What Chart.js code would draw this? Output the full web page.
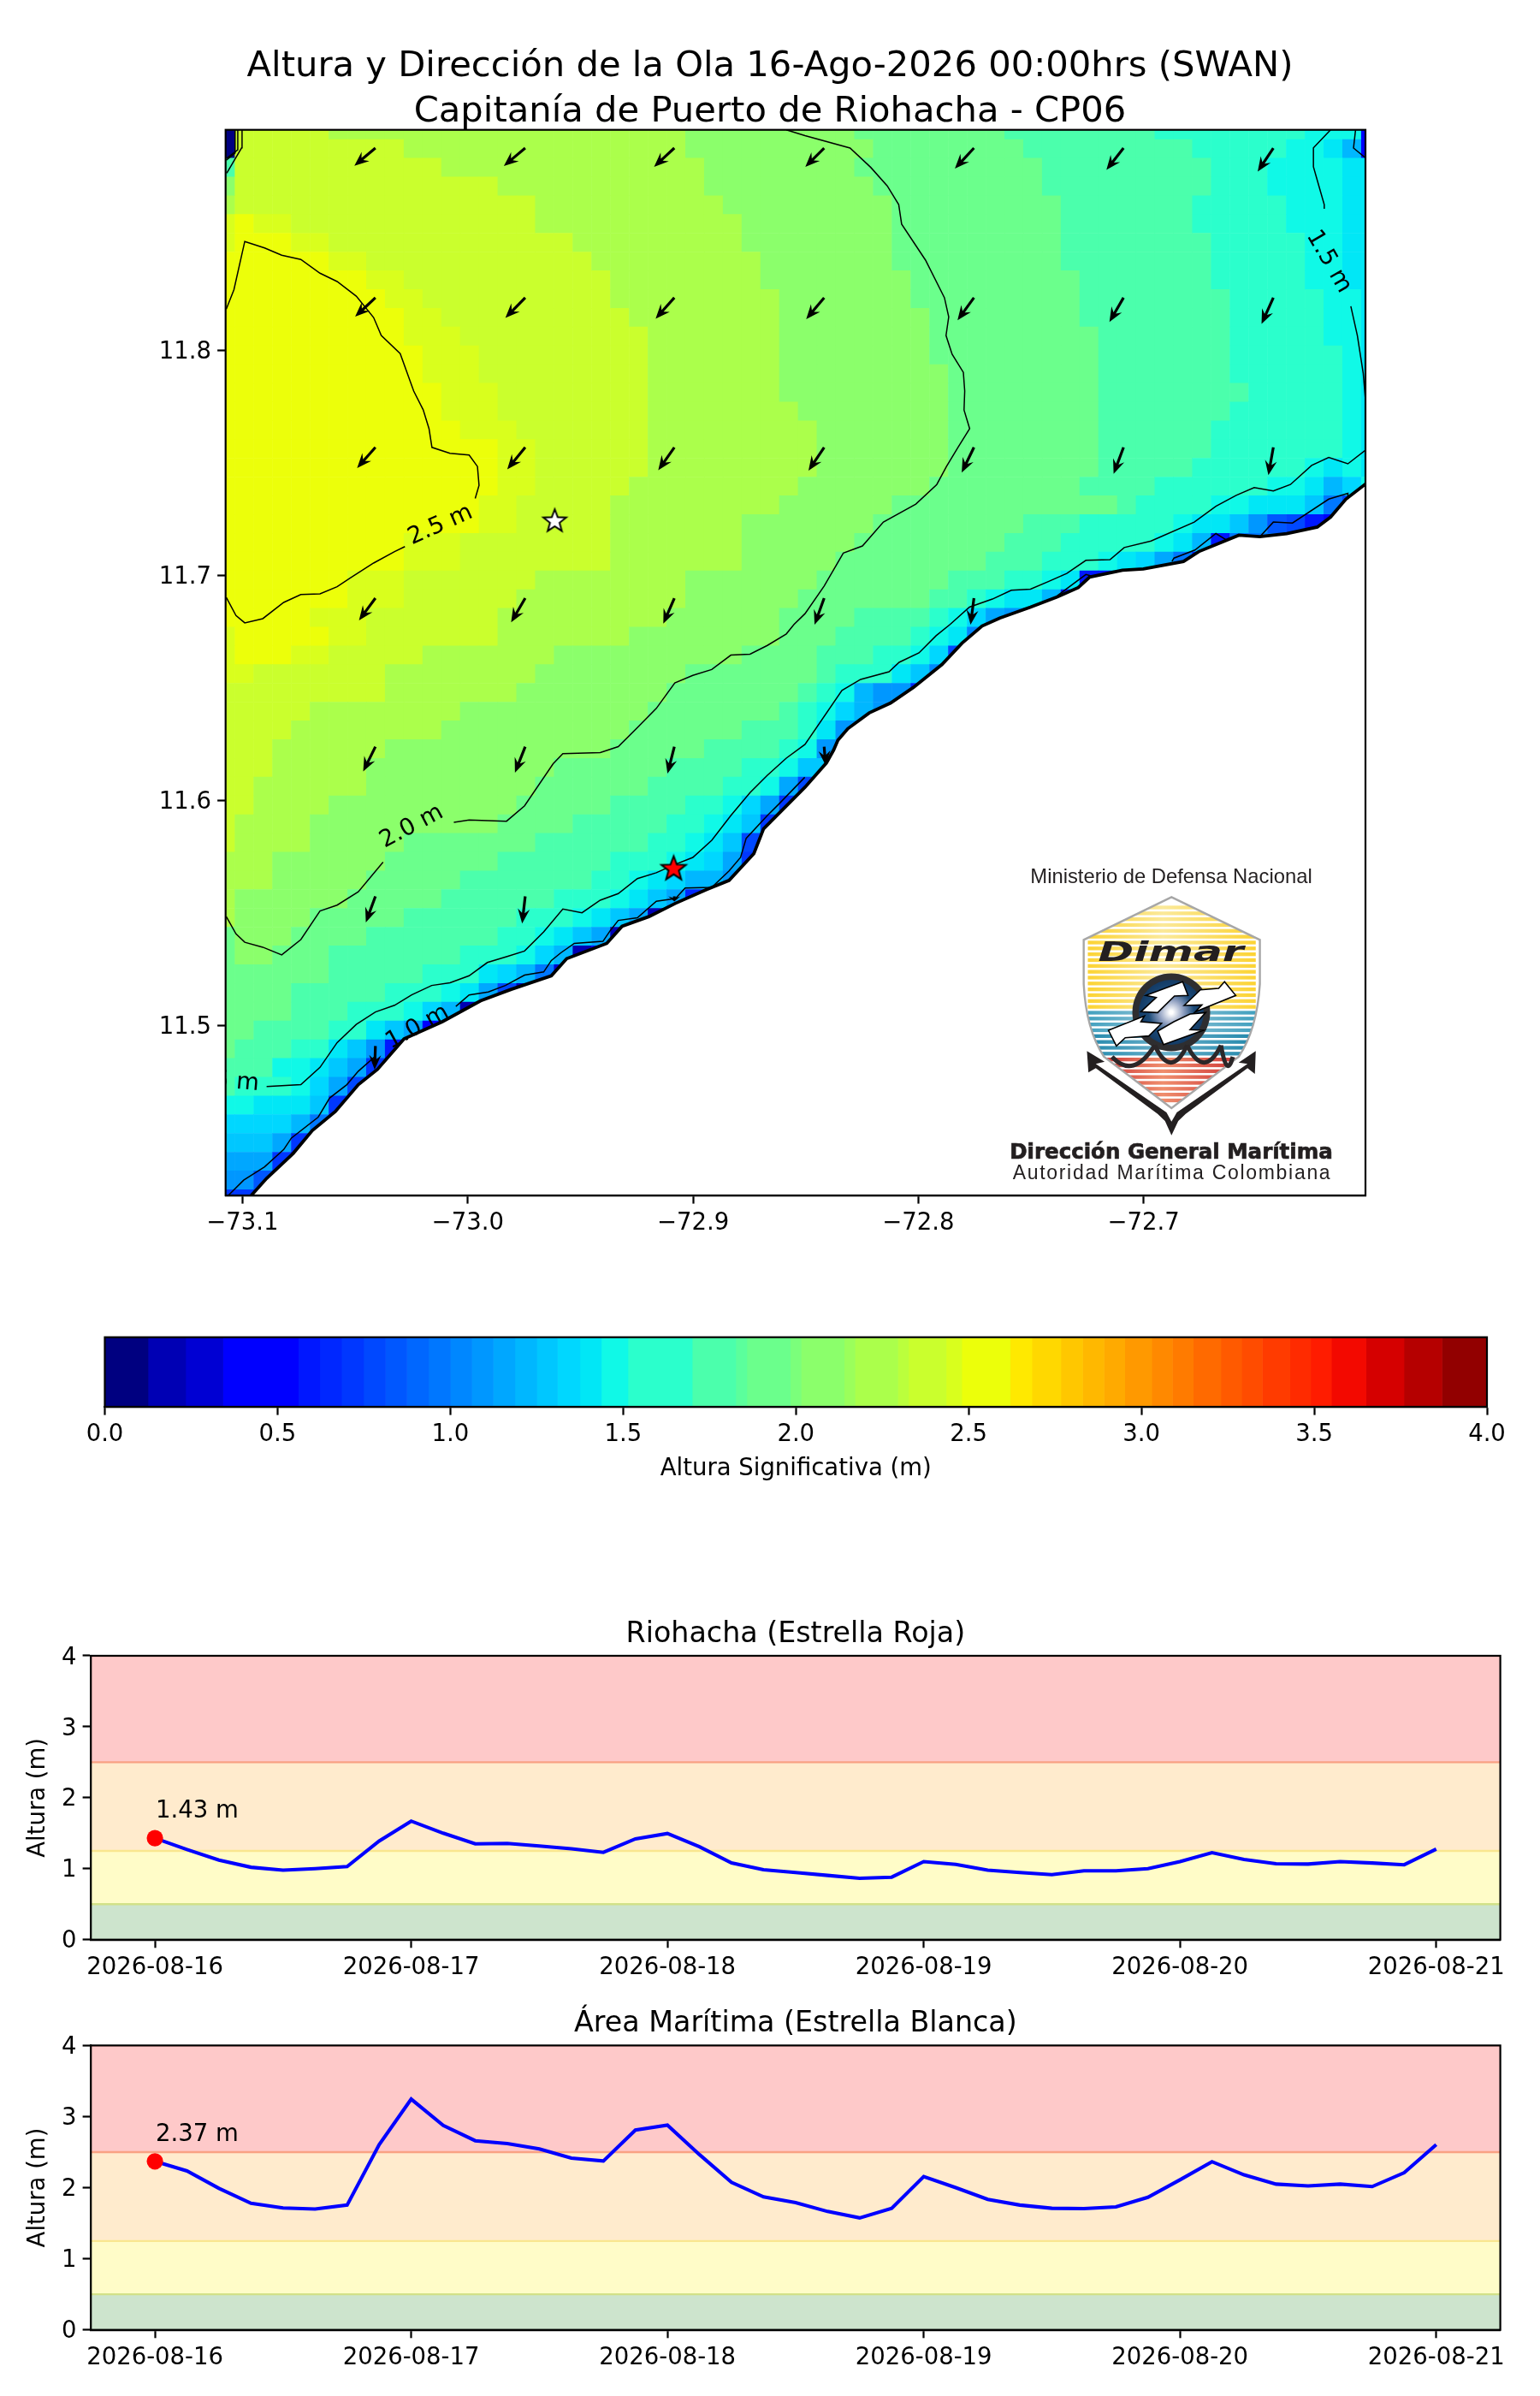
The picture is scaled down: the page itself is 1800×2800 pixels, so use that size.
<!DOCTYPE html>
<html>
<head>
<meta charset="utf-8">
<title>Altura y Dirección de la Ola</title>
<script src="https://cdn.jsdelivr.net/npm/chart.js@4"></script>
<style>
  html, body { margin: 0; padding: 0; background: #fff; }
  #page { position: relative; width: 1800px; height: 2800px; overflow: hidden; }
  canvas { position: absolute; left: 0; }
</style>
</head>
<body>
<div id="page">
  <canvas id="mapChart" width="1800" height="1500" style="top:0"></canvas>
  <canvas id="barChart" width="1800" height="220" style="top:1540px"></canvas>
  <canvas id="redChart" width="1800" height="460" style="top:1880px"></canvas>
  <canvas id="whiteChart" width="1800" height="460" style="top:2340px"></canvas>
</div>
<script>
const mainTitle = ['Altura y Dirección de la Ola 16-Ago-2026 00:00hrs (SWAN)', 'Capitanía de Puerto de Riohacha - CP06'];
const lonTicks = [-73.1, -73.0, -72.9, -72.8, -72.7];
const latTicks = [11.5, 11.6, 11.7, 11.8];

// colour band edges
const bandEdges = [0, .125, .234, .342, .56, .622, .685, .749, .812, .874, .937, 1, 1.062, 1.124, 1.187, 1.25, 1.31, 1.375, 1.437, 1.514, 1.7, 1.826, 1.858, 1.984, 2.015, 2.14, 2.171, 2.295, 2.326, 2.435, 2.48, 2.62, 2.683, 2.767, 2.83, 2.892, 2.952, 3.03, 3.09, 3.15, 3.23, 3.29, 3.35, 3.43, 3.49, 3.55, 3.65, 3.76, 3.87, 4];
const barTicks = [0, .5, 1, 1.5, 2, 2.5, 3, 3.5, 4];

// wave height per grid row, north to south: value, last column it holds for
const hsRows = [
  [.06,0,2.38,5,2.23,24,2.08,33,1.92,41,1.76,49,1.6,57,1.47,60,.45,61],
  [.06,0,2.38,9,2.23,24,2.08,34,1.92,42,1.76,51,1.6,56,1.47,58,1.4,59,1.2,60,.45,61],
  [1.76,0,2.38,11,2.23,25,2.08,33,1.92,43,1.76,52,1.6,55,1.47,59,1.4,61],
  [2.08,0,2.38,14,2.23,25,2.08,34,1.92,43,1.76,52,1.6,55,1.47,59,1.4,61],
  [2.23,0,2.38,16,2.23,26,2.08,35,1.92,44,1.76,51,1.6,56,1.47,59,1.4,61],
  [2.46,0,2.55,1,2.46,3,2.38,16,2.23,27,2.08,35,1.92,44,1.76,51,1.6,56,1.47,59,1.4,61],
  [2.46,0,2.55,3,2.46,5,2.38,18,2.23,27,2.08,35,1.92,44,1.76,52,1.6,57,1.47,59,1.4,61],
  [2.55,5,2.46,7,2.38,19,2.23,28,2.08,35,1.92,44,1.76,52,1.6,57,1.47,59,1.4,61],
  [2.55,7,2.46,9,2.38,20,2.23,28,2.08,36,1.92,45,1.76,52,1.6,57,1.47,59,1.4,61],
  [2.55,8,2.46,10,2.38,20,2.23,29,2.08,36,1.92,45,1.76,53,1.6,58,1.47,60,1.4,61],
  [2.55,9,2.46,11,2.38,21,2.23,29,2.08,37,1.92,45,1.76,53,1.6,58,1.47,60,1.4,61],
  [2.55,9,2.46,12,2.38,22,2.23,29,2.08,37,1.92,46,1.76,53,1.6,58,1.47,60,1.4,61],
  [2.55,10,2.46,13,2.38,22,2.23,29,2.08,37,1.92,46,1.76,53,1.6,59,1.47,60,1.4,61],
  [2.55,10,2.46,13,2.38,22,2.23,29,2.08,38,1.92,46,1.76,53,1.6,59,1.47,60,1.4,61],
  [2.55,11,2.46,14,2.38,22,2.23,29,2.08,38,1.92,46,1.76,54,1.6,59,1.47,60,1.4,61],
  [2.55,11,2.46,14,2.38,22,2.23,30,2.08,38,1.92,46,1.76,53,1.6,59,1.47,60,1.4,61],
  [2.55,12,2.46,15,2.38,22,2.23,31,2.08,38,1.92,46,1.76,52,1.6,59,1.47,60,1.4,61],
  [2.55,14,2.46,16,2.38,22,2.23,31,2.08,38,1.92,46,1.76,52,1.6,59,1.47,60,1.4,61],
  [2.55,14,2.46,16,2.38,22,2.23,31,2.08,38,1.92,46,1.76,51,1.6,57,1.47,58,1.4,59,1.47,60,1.4,61],
  [2.55,14,2.46,16,2.38,21,2.23,30,2.08,37,1.92,45,1.76,49,1.6,55,1.47,57,1.4,58,1.22,59,1.34,60,1.47,61],
  [2.55,13,2.46,15,2.38,20,2.23,29,2.08,35,1.92,47,1.76,48,1.6,52,1.47,54,1.4,57,1.28,58,1,59,.8,61],
  [2.55,13,2.46,15,2.38,20,2.23,27,2.08,34,1.92,42,1.76,45,1.6,50,1.47,51,1.4,53,1.28,54,1.07,55,.87,56,.8,57,.62,58,.45,60],
  [2.55,9,2.46,12,2.38,20,2.23,27,2.08,33,1.92,41,1.76,44,1.6,49,1.47,50,1.4,51,1.22,52,.62,53,1,56],
  [2.55,9,2.46,12,2.38,20,2.23,27,2.08,32,1.92,40,1.76,43,1.6,46,1.47,47,1.4,48,1.34,49,1.15,50,1,51,.62,53],
  [2.55,6,2.46,9,2.38,16,2.23,24,2.08,31,1.92,38,1.76,41,1.6,43,1.47,44,1.4,45,.62,47],
  [2.55,6,2.46,9,2.38,15,2.23,24,2.08,30,1.92,37,1.76,39,1.6,40,1.47,41,1.4,43,1.22,44,.62,46],
  [2.55,4,2.46,7,2.38,14,2.23,23,2.08,29,1.92,33,1.76,37,1.6,38,1.47,39,1.36,40,1.15,41,1.07,42,.62,44],
  [2.46,0,2.55,5,2.46,7,2.38,14,2.23,21,2.08,29,1.92,32,1.76,36,1.6,37,1.47,38,1.4,39,1.05,41],
  [2.46,0,2.55,3,2.46,5,2.38,10,2.23,17,2.08,27,1.92,31,1.76,34,1.6,36,1.47,37,1.34,38,.78,40],
  [2.46,1,2.38,8,2.23,16,2.08,24,1.92,31,1.76,32,1.6,35,1.4,36,1.28,37,1.05,39],
  [2.38,8,2.23,15,2.08,23,1.92,30,1.76,31,1.6,32,1.47,33,1.2,34,1.07,36,.68,38],
  [2.38,4,2.23,12,2.08,22,1.92,29,1.76,30,1.6,31,1.47,32,1.34,33,1.2,34,1.07,37],
  [2.38,3,2.23,11,2.08,21,1.92,27,1.76,30,1.6,31,1.4,32,1.07,35],
  [2.38,2,2.23,8,2.08,20,1.92,25,1.76,29,1.6,30,1.47,31,1.07,34],
  [2.38,2,2.23,7,2.08,17,1.92,23,1.76,27,1.6,29,1.47,30,1.28,33],
  [2.38,1,2.23,7,2.08,16,1.92,22,1.76,26,1.6,28,1.47,29,1.15,30,.8,33],
  [2.38,1,2.23,5,2.08,15,1.92,20,1.76,24,1.6,26,1.47,27,1.34,28,1.15,29,.72,32],
  [2.38,0,2.23,4,2.08,14,1.92,18,1.76,23,1.6,25,1.47,26,1.4,27,1.28,28,.72,31],
  [2.38,0,2.23,4,2.08,9,1.92,16,1.76,22,1.6,24,1.47,25,1.4,26,1.28,27,.8,30],
  [2.23,2,2.08,8,1.92,14,1.76,20,1.6,23,1.47,24,1.4,25,1.34,26,1.15,27,.72,30],
  [2.23,2,2.08,7,1.92,12,1.76,19,1.6,21,1.47,22,1.4,23,1.34,24,1.2,26,1.07,27,.72,29],
  [2.23,0,2.08,6,1.92,11,1.76,17,1.6,20,1.47,21,1.4,22,1.28,23,1.15,24,.68,27],
  [2.23,0,2.08,4,1.92,9,1.76,15,1.6,18,1.47,19,1.4,20,1.28,21,1.15,22,.15,25],
  [1.92,0,2.08,3,1.92,7,1.76,14,1.6,16,1.47,17,1.4,18,1.28,19,1.15,20,.15,21,.5,24],
  [1.92,0,2.08,2,1.92,5,1.76,12,1.6,15,1.47,16,1.34,17,1.2,18,.2,19,.5,22],
  [1.92,5,1.76,10,1.6,13,1.4,14,1.34,15,1.2,16,1,17,.3,20],
  [1.92,3,1.76,8,1.6,11,1.47,12,1.4,13,1.15,14,.8,15,.15,16,.5,19],
  [1.92,3,1.76,6,1.6,9,1.47,10,1.34,11,1.2,12,.15,13,.5,16],
  [1.92,1,1.76,5,1.6,7,1.4,8,1.28,9,1.15,10,.45,11,.6,14],
  [1.92,0,1.76,3,1.6,5,1.4,6,1.28,7,1.07,8,.62,9,.6,12],
  [1.76,2,1.47,4,1.4,5,1.28,6,1.15,7,.72,8,.6,11],
  [1.76,0,1.6,3,1.47,4,1.34,5,1.15,6,.8,7,.5,10],
  [1.47,1,1.4,4,1.28,5,.72,6,.5,9],
  [1.34,3,1.22,4,1,5,.72,8],
  [1.28,2,1.15,3,.72,4,.3,7],
  [1.15,2,.72,3,.3,6],
  [1.07,1,.87,2,.6,5],
  [.72,1,.6,4]
];
const gridLonStart = -73.1075, gridLatStart = 11.898, gridStep = 1 / 120;

// contour lines [lon, lat]
const contour25a = [[-73.1072,11.8184],[-73.1038,11.8271],[-73.099,11.8485],[-73.0902,11.8456],[-73.0826,11.8424],[-73.0741,11.8405],[-73.0656,11.8344],[-73.058,11.8307],[-73.0495,11.8242],[-73.0418,11.8147],[-73.0384,11.8067],[-73.03,11.7987],[-73.024,11.782],[-73.0198,11.7737],[-73.0172,11.7653],[-73.0159,11.757],[-73.0079,11.7544],[-72.9994,11.7536],[-72.9957,11.7485],[-72.995,11.7401],[-72.9967,11.7343]];
const contour25b = [[-73.0279,11.7129],[-73.0325,11.7107],[-73.0418,11.7056],[-73.052,11.6991],[-73.058,11.6951],[-73.0656,11.6919],[-73.0741,11.6916],[-73.0817,11.6881],[-73.091,11.6809],[-73.099,11.679],[-73.1029,11.6823],[-73.1072,11.6903]];
const contour20a = [[-72.8586,11.8981],[-72.8503,11.8955],[-72.8303,11.89],[-72.8211,11.8814],[-72.8138,11.8732],[-72.8087,11.8649],[-72.8074,11.8562],[-72.7968,11.8402],[-72.7884,11.8235],[-72.7865,11.815],[-72.7877,11.8067],[-72.785,11.7984],[-72.78,11.7903],[-72.7794,11.782],[-72.7797,11.7736],[-72.7772,11.7653],[-72.7824,11.757],[-72.7875,11.7485],[-72.7918,11.7405],[-72.8011,11.7318],[-72.8155,11.7238],[-72.8248,11.7132],[-72.8333,11.71],[-72.8418,11.6954],[-72.8503,11.6831],[-72.8552,11.6783],[-72.8586,11.6741],[-72.867,11.669],[-72.8747,11.6651],[-72.8832,11.6647],[-72.8917,11.6583],[-72.9001,11.6557],[-72.9081,11.6523],[-72.9163,11.641],[-72.9247,11.6325],[-72.9332,11.624],[-72.9412,11.6214],[-72.9578,11.6209],[-72.9621,11.6164],[-72.9748,11.5977],[-72.9828,11.5909],[-72.9994,11.5914],[-73.0062,11.5904]];
const contour20b = [[-73.0376,11.5727],[-73.0486,11.5595],[-73.058,11.5536],[-73.0656,11.551],[-73.0741,11.5383],[-73.0826,11.5315],[-73.091,11.5349],[-73.099,11.5371],[-73.1029,11.5408],[-73.1072,11.5485]];
const contour15a = [[-72.617,11.8981],[-72.6246,11.8901],[-72.6246,11.8817],[-72.6221,11.8729],[-72.6198,11.8649],[-72.6198,11.863]];
const contour15b = [[-72.608,11.8197],[-72.6051,11.8067],[-72.6025,11.79],[-72.6014,11.7769]];
const contour15c = [[-72.6014,11.7558],[-72.6093,11.7497],[-72.6178,11.7525],[-72.6254,11.749],[-72.6348,11.7405],[-72.6424,11.7376],[-72.6509,11.7391],[-72.6589,11.7357],[-72.6679,11.7308],[-72.6775,11.7238],[-72.6967,11.7154],[-72.7086,11.7125],[-72.7149,11.7071],[-72.7256,11.7068],[-72.7341,11.701],[-72.7425,11.6973],[-72.7502,11.694],[-72.7587,11.6935],[-72.7671,11.6896],[-72.7773,11.686],[-72.7858,11.6784],[-72.7921,11.6733],[-72.7997,11.6657],[-72.8085,11.6615],[-72.813,11.6573],[-72.8256,11.6539],[-72.8339,11.649],[-72.8503,11.625],[-72.8586,11.6189],[-72.867,11.6113],[-72.8747,11.6036],[-72.8832,11.5934],[-72.8917,11.5824],[-72.9001,11.5748],[-72.9086,11.5714],[-72.9163,11.568],[-72.9247,11.5654],[-72.9332,11.5587],[-72.9412,11.5558],[-72.9493,11.5502],[-72.9578,11.5519],[-72.9663,11.5417],[-72.9748,11.5332],[-72.9828,11.5307],[-72.9913,11.5281],[-72.9994,11.5222],[-73.0079,11.5191],[-73.016,11.5179],[-73.0249,11.5137],[-73.0325,11.5091],[-73.041,11.5061],[-73.0495,11.5006],[-73.058,11.4925],[-73.0656,11.4815],[-73.0741,11.4738],[-73.0893,11.473]];
const contour15d = [[-73.107,11.8788],[-73.1004,11.8901],[-73.1002,11.8981]];
const contour10a = [[-73.1063,11.4246],[-73.0995,11.4314],[-73.0902,11.4373],[-73.0817,11.445],[-73.0783,11.4501],[-73.0664,11.4594],[-73.0613,11.4679],[-73.0537,11.4738],[-73.0486,11.4798],[-73.041,11.4865]];
const contour10b = [[-73.0053,11.5086],[-72.9994,11.5137],[-72.9909,11.515],[-72.9833,11.5179],[-72.9748,11.5225],[-72.9663,11.5239],[-72.9629,11.529],[-72.9587,11.5324],[-72.9527,11.5366],[-72.94,11.5375],[-72.9366,11.5425],[-72.9332,11.5468],[-72.9247,11.548],[-72.9163,11.5553],[-72.9078,11.5565],[-72.9035,11.5612],[-72.8917,11.5615],[-72.884,11.5688],[-72.8789,11.5748],[-72.8764,11.5833],[-72.867,11.5934],[-72.8619,11.5985],[-72.8504,11.6104]];
const contour10c = [[-72.7383,11.6911],[-72.7256,11.7005],[-72.723,11.6998]];
const contour10d = [[-72.6874,11.7063],[-72.6865,11.7078],[-72.6772,11.7114],[-72.6679,11.7187],[-72.6636,11.7161]];
const contour10e = [[-72.6484,11.7173],[-72.6424,11.7238],[-72.6339,11.7234],[-72.6178,11.734],[-72.6093,11.7366],[-72.6093,11.734]];
const contour10f = [[-73.1072,11.8853],[-73.1021,11.8892],[-73.1021,11.8981]];
const contour05a = [[-73.1072,11.8846],[-73.1033,11.8878],[-73.1033,11.8981]];
const contour05b = [[-72.6059,11.8981],[-72.6068,11.89],[-72.6014,11.8856]];
const contourLines = [contour25a, contour25b, contour20a, contour20b, contour15a, contour15b, contour15c, contour15d, contour10a, contour10b, contour10c, contour10d, contour10e, contour10f, contour05a, contour05b];
const contourLabels = ['2.5 m', '2.0 m', '1.5 m', '1.5 m', '1.0 m'];
const labelLons = [-73.0121, -73.0249, -72.6178, -73.1076, -73.0223];
const labelLats = [11.7224, 11.5884, 11.8395, 11.4754, 11.4993];
const labelAngles = [-24, -28, 60, 5, -29];

const coastLine = [[-73.0961,11.4246],[-73.0893,11.4322],[-73.0775,11.4433],[-73.069,11.4535],[-73.0588,11.4619],[-73.0486,11.4738],[-73.0401,11.4806],[-73.0283,11.4942],[-73.0113,11.5018],[-72.9943,11.5111],[-72.9807,11.5162],[-72.9629,11.5222],[-72.9561,11.5298],[-72.9383,11.5366],[-72.9315,11.5442],[-72.9196,11.5485],[-72.9078,11.5544],[-72.8942,11.5604],[-72.884,11.5646],[-72.873,11.5765],[-72.8687,11.5875],[-72.8503,11.606],[-72.8408,11.6168],[-72.8376,11.6225],[-72.8357,11.6269],[-72.8313,11.632],[-72.8218,11.639],[-72.8123,11.6434],[-72.8021,11.6504],[-72.7895,11.6605],[-72.7806,11.67],[-72.7717,11.6776],[-72.7638,11.6812],[-72.7502,11.686],[-72.7383,11.6906],[-72.729,11.6947],[-72.7239,11.6994],[-72.7094,11.7024],[-72.7001,11.703],[-72.6823,11.7063],[-72.6755,11.7107],[-72.6577,11.718],[-72.6484,11.7173],[-72.6365,11.7187],[-72.6229,11.7216],[-72.617,11.726],[-72.6102,11.734],[-72.6014,11.7408]];

// wave direction arrows
const arrowLons = [-73.041, -72.9745, -72.9083, -72.8418, -72.7753, -72.7089, -72.6424];
const arrowLats = [11.89, 11.8235, 11.757, 11.69, 11.624, 11.5575, 11.491];
const arrowU = [
  [-24.6,-25,-23.7,-22,-22.3,-20,-18.3],
  [-23.7,-23.2,-21.9,-21,-19.2,-16.5,-13.8],
  [-21.4,-21,-18.8,-18.3,-14.3,-11.6,-5.8],
  [-19.2,-16.5,-12.9,-11.2,-4],
  [-14.3,-12,-8,1.7],
  [-11.2,-3.6,0],
  [-.9]
];
const arrowV = [
  [-20.7,-21,-22,-22,-24,-25.6,-27.5],
  [-22.2,-23.7,-24.5,-25,-26.4,-28.4,-30.6],
  [-24.1,-25.6,-26.8,-27.2,-29.5,-31,-32.5],
  [-26,-28.3,-29.8,-31,-31],
  [-29,-30.4,-31.3,-21.7],
  [-30.4,-31.7,-6],
  [-27.7]
];
const whiteStar = [-72.9614, 11.7242];
const redStar = [-72.9086, 11.5697];

// forecast series, one value every 3 hours
const dayLabels = ['2026-08-16', '2026-08-17', '2026-08-18', '2026-08-19', '2026-08-20', '2026-08-21'];
const riohachaHs = [1.43,1.27,1.12,1.02,.98,1,1.03,1.39,1.67,1.5,1.35,1.355,1.32,1.28,1.23,1.42,1.495,1.31,1.08,.985,.945,.905,.865,.88,1.1,1.06,.98,.945,.915,.97,.97,1,1.1,1.225,1.13,1.07,1.065,1.1,1.08,1.055,1.275];
const maritimaHs = [2.37,2.235,1.99,1.78,1.715,1.7,1.755,2.605,3.245,2.875,2.66,2.62,2.545,2.415,2.375,2.81,2.88,2.465,2.075,1.87,1.79,1.665,1.575,1.71,2.155,2,1.835,1.755,1.71,1.705,1.73,1.865,2.11,2.365,2.18,2.05,2.025,2.05,2.015,2.21,2.605];
const alertLow = [0, .5, 1.25, 2.5];
const alertHigh = [.5, 1.25, 2.5, 4];
const alertFill = ['#cde4cd', '#fffcc8', '#ffebcd', '#fec9c9'];
const alertEdge = ['#d2e188', '#f9e68f', '#f9a183', '#f9a6a0'];

Chart.defaults.font.family = '"DejaVu Sans"';
Chart.defaults.font.size = 27.5;
Chart.defaults.color = '#000';
Chart.defaults.animation = false;
Chart.defaults.plugins.legend.display = false;
Chart.defaults.plugins.tooltip.enabled = false;

const SPINE = 2.2, TICK = 9.6;

function jetChannel(t, stops) {
  for (let i = 1; i < stops.length; i++) {
    if (t <= stops[i][0]) {
      const a = stops[i - 1], b = stops[i];
      return a[1] + (b[1] - a[1]) * (t - a[0]) / (b[0] - a[0]);
    }
  }
  return stops[stops.length - 1][1];
}
function jet(t) {
  const r = jetChannel(t, [[0,0],[.35,0],[.66,1],[.89,1],[1,.5]]);
  const g = jetChannel(t, [[0,0],[.125,0],[.375,1],[.64,1],[.91,0],[1,0]]);
  const b = jetChannel(t, [[0,.5],[.11,1],[.34,1],[.65,0],[1,0]]);
  return `rgb(${Math.round(r * 255)},${Math.round(g * 255)},${Math.round(b * 255)})`;
}
const bandColors = bandEdges.slice(1).map((hi, i) => jet(i === 0 ? 0 : (bandEdges[i] + hi) / 8));
function heightColor(v) {
  for (let i = 1; i < bandEdges.length; i++) if (v <= bandEdges[i]) return bandColors[i - 1];
  return bandColors[bandColors.length - 1];
}

// expand the run-length rows into grid cells
const hsCells = [];
hsRows.forEach((row, r) => {
  let c = 0;
  for (let k = 0; k < row.length; k += 2) {
    for (; c <= row[k + 1]; c++) {
      hsCells.push({ x: gridLonStart + c * gridStep, y: gridLatStart - r * gridStep, v: row[k] });
    }
  }
});

// box round the axes, all sides
Chart.register({
  id: 'axesFrame',
  afterDraw(chart) {
    const a = chart.chartArea, ctx = chart.ctx;
    ctx.save();
    ctx.strokeStyle = '#000';
    ctx.lineWidth = SPINE;
    ctx.strokeRect(a.left, a.top, a.right - a.left, a.bottom - a.top);
    ctx.restore();
  }
});

function starCanvas(fill, outer) {
  const size = Math.ceil(outer * 2 + 6), cv = document.createElement('canvas');
  cv.width = cv.height = size;
  const c = cv.getContext('2d');
  c.beginPath();
  for (let i = 0; i < 10; i++) {
    const rad = i % 2 ? outer * .42 : outer, a = -Math.PI / 2 + i * Math.PI / 5;
    c.lineTo(size / 2 + rad * Math.cos(a), size / 2 + rad * Math.sin(a));
  }
  c.closePath();
  c.fillStyle = fill;
  c.fill();
  c.strokeStyle = '#000';
  c.lineWidth = 2;
  c.stroke();
  return cv;
}

// the figure title is centred on the page, not on the axes
const pageTitlePlugin = {
  id: 'pageTitle',
  afterLayout(chart) {
    chart.titleBlock.left = 0;
    chart.titleBlock.right = chart.width;
  }
};

const arrowsPlugin = {
  id: 'arrows',
  afterDatasetsDraw(chart) {
    const ctx = chart.ctx, xs = chart.scales.x, ys = chart.scales.y;
    ctx.save();
    ctx.fillStyle = '#000';
    arrowU.forEach((row, r) => row.forEach((u, c) => {
      const v = arrowV[r][c], x = xs.getPixelForValue(arrowLons[c]), y = ys.getPixelForValue(arrowLats[r]);
      const len = Math.hypot(u, v);
      if (len < 1) return;
      ctx.save();
      ctx.translate(x, y);
      ctx.rotate(Math.atan2(-v, u));
      const head = Math.min(len, 17);
      ctx.beginPath();
      ctx.moveTo(0, -1.6);
      ctx.lineTo(len - head * .72, -1.6);
      ctx.lineTo(len - head, -7);
      ctx.lineTo(len, 0);
      ctx.lineTo(len - head, 7);
      ctx.lineTo(len - head * .72, 1.6);
      ctx.lineTo(0, 1.6);
      ctx.closePath();
      ctx.fill();
      ctx.restore();
    }));
    ctx.restore();
  }
};

const contourLabelPlugin = {
  id: 'contourLabels',
  afterDatasetsDraw(chart) {
    const ctx = chart.ctx, a = chart.chartArea;
    ctx.save();
    ctx.beginPath();
    ctx.rect(a.left, a.top, a.right - a.left, a.bottom - a.top);
    ctx.clip();
    ctx.font = '27.5px "DejaVu Sans"';
    ctx.fillStyle = '#000';
    ctx.textAlign = 'center';
    ctx.textBaseline = 'middle';
    contourLabels.forEach((t, i) => {
      ctx.save();
      ctx.translate(chart.scales.x.getPixelForValue(labelLons[i]), chart.scales.y.getPixelForValue(labelLats[i]));
      ctx.rotate(labelAngles[i] * Math.PI / 180);
      ctx.fillText(t, 0, 0);
      ctx.restore();
    });
    ctx.restore();
  }
};

// bitmap logo in the reference, redrawn by hand in canvas
const logoBolts = [
  [[568,642],[690,592],[678,612],[748,618],[705,662],[625,668],[595,697]],
  [[695,520],[820,472],[838,520],[792,522],[735,580],[678,577],[730,527]],
  [[825,555],[880,500],[942,495],[962,472],[1000,520],[880,570],[862,578],[885,553]],
  [[735,645],[790,612],[845,585],[898,580],[845,640],[890,642],[755,692]]
];
const logoAnchor = [[495,715],[555,752],[525,760],[765,930],[782,962],[800,930],[1040,760],[1010,755],[1068,715],[1065,795],[1040,775],[830,935],[805,960],[782,1010],[760,960],[735,935],[525,775],[500,790]];
const logoWaves = [[580,735,725,695],[725,695,835,695],[835,695,950,695],[950,695,990,735]];
const logoPlugin = {
  id: 'logo',
  afterDraw(chart) {
    const ctx = chart.ctx;
    const lx = zx => 1100 + zx / 2.904, ly = zy => 990 + zy / 3;
    const stripeFill = (edge, middle) => {
      const g = ctx.createLinearGradient(lx(484), 0, lx(1082), 0);
      g.addColorStop(0, edge);
      g.addColorStop(.45, middle);
      g.addColorStop(1, edge);
      return g;
    };
    const yellow = stripeFill('#fcd22e', '#fbe99a');
    const teal = stripeFill('#3f9fbe', '#8fc3d6');
    const blue = stripeFill('#1f86aa', '#69b0ca');
    const red = stripeFill('#c61f27', '#ef8d6d');
    ctx.save();
    ctx.textAlign = 'center';
    ctx.textBaseline = 'middle';
    ctx.fillStyle = '#231f20';
    ctx.font = '23.8px "Liberation Sans"';
    ctx.fillText('Ministerio de Defensa Nacional', 1369, 1025);

    const shield = () => {
      ctx.beginPath();
      ctx.moveTo(lx(782), ly(175));
      ctx.lineTo(lx(1082), ly(325));
      ctx.lineTo(lx(1082), ly(480));
      ctx.quadraticCurveTo(lx(1072), ly(640), lx(1010), ly(735));
      ctx.lineTo(lx(782), ly(915));
      ctx.lineTo(lx(553), ly(735));
      ctx.quadraticCurveTo(lx(492), ly(640), lx(484), ly(480));
      ctx.lineTo(lx(484), ly(325));
      ctx.closePath();
    };
    shield();
    ctx.fillStyle = '#fff';
    ctx.fill();
    ctx.save();
    ctx.clip();
    for (let zy = 205; zy < 900; zy += 20.5) {
      ctx.fillStyle = zy > 725 ? red : zy > 640 ? blue : zy > 555 ? teal : yellow;
      ctx.fillRect(lx(498), ly(zy), 570 / 2.904, 4.3);
    }
    ctx.restore();
    shield();
    ctx.strokeStyle = '#a7a7a7';
    ctx.lineWidth = 2.4;
    ctx.stroke();

    // Dimar lettering, stretched to the width of the badge wordmark
    ctx.save();
    ctx.font = 'italic bold 34px "DejaVu Sans"';
    const sx = 170 / ctx.measureText('Dimar').width;
    ctx.translate(1368.6, 1115);
    ctx.scale(sx, .95);
    ctx.fillStyle = '#231f20';
    ctx.fillText('Dimar', 0, 0);
    ctx.restore();

    // centre disc
    ctx.beginPath();
    ctx.arc(1369, 1183, 45.5, 0, Math.PI * 2);
    ctx.fillStyle = '#2e2e30';
    ctx.fill();
    const g = ctx.createRadialGradient(1369, 1183, 2, 1369, 1183, 37);
    g.addColorStop(0, '#ffffff');
    g.addColorStop(.35, '#8f9fc0');
    g.addColorStop(.7, '#1b4a78');
    g.addColorStop(1, '#143c66');
    ctx.beginPath();
    ctx.arc(1369, 1183, 38, 0, Math.PI * 2);
    ctx.fillStyle = g;
    ctx.fill();
    ctx.fillStyle = '#fff';
    ctx.strokeStyle = '#000';
    ctx.lineWidth = 1.6;
    logoBolts.forEach(b => {
      ctx.beginPath();
      b.forEach((p, i) => i ? ctx.lineTo(lx(p[0]), ly(p[1])) : ctx.moveTo(lx(p[0]), ly(p[1])));
      ctx.closePath();
      ctx.fill();
      ctx.stroke();
    });

    // waves
    ctx.strokeStyle = '#2b2729';
    ctx.lineWidth = 5;
    logoWaves.forEach(w => {
      ctx.beginPath();
      ctx.moveTo(lx(w[0]), ly(w[1]));
      ctx.quadraticCurveTo(lx((w[0] + w[2]) / 2), ly(815), lx(w[2]), ly(w[3]));
      ctx.stroke();
    });

    // anchor arms
    ctx.fillStyle = '#231f20';
    ctx.beginPath();
    logoAnchor.forEach((p, i) => {
      i ? ctx.lineTo(lx(p[0]), ly(p[1])) : ctx.moveTo(lx(p[0]), ly(p[1]));
    });
    ctx.closePath();
    ctx.fill();

    ctx.fillStyle = '#231f20';
    ctx.strokeStyle = '#231f20';
    ctx.lineWidth = .7;
    ctx.font = 'bold 24.5px "DejaVu Sans"';
    ctx.fillText('Dirección General Marítima', 1369, 1348);
    ctx.strokeText('Dirección General Marítima', 1369, 1348);
    ctx.font = '23px "Liberation Sans"';
    ctx.letterSpacing = '1.7px';
    ctx.fillText('Autoridad Marítima Colombiana', 1370, 1372);
    ctx.restore();
  }
};

function lineSet(points, width, order) {
  return {
    data: points, showLine: true, pointRadius: 0, borderColor: '#000',
    borderWidth: width, tension: 0, clip: 0, order: order
  };
}

const axisGrid = { display: true, drawOnChartArea: false, tickLength: TICK, tickWidth: SPINE, tickColor: '#000' };
const axisBorder = { color: '#000', width: SPINE };

new Chart(document.getElementById('mapChart'), {
  type: 'scatter',
  data: {
    datasets: [
      {
        data: hsCells, pointStyle: 'rect', pointRadius: 15.9, pointBorderWidth: 0, clip: 0, order: 9,
        pointBackgroundColor: ctx => heightColor(ctx.raw.v), pointHoverRadius: 15.9
      },
      Object.assign(lineSet(coastLine, 3.8, 8), { fill: 'start', backgroundColor: '#fff' }),
      ...contourLines.map(c => lineSet(c, 1.5, 5)),
      { data: [{ x: whiteStar[0], y: whiteStar[1] }], pointStyle: starCanvas('#fff', 14), clip: 0, order: 1 },
      { data: [{ x: redStar[0], y: redStar[1] }], pointStyle: starCanvas('#f00', 15), clip: 0, order: 1 }
    ]
  },
  options: {
    responsive: false,
    devicePixelRatio: 1,
    layout: { padding: { left: 0, right: 204, top: 0, bottom: 0 } },
    plugins: {
      title: {
        display: true, text: mainTitle, color: '#000',
        font: { size: 41.7, weight: 'normal', lineHeight: 1.27 }, padding: { top: 51.5, bottom: -5.7 }
      }
    },
    scales: {
      x: {
        type: 'linear', min: -73.1075, max: -72.6015,
        afterFit: s => { s.height = 103; },
        afterBuildTicks: s => { s.ticks = lonTicks.map(v => ({ value: v })); },
        ticks: { padding: 7, maxRotation: 0, callback: v => v.toFixed(1).replace('-', '\u2212') },
        grid: axisGrid, border: axisBorder
      },
      y: {
        type: 'linear', min: 11.4246, max: 11.8981,
        afterFit: s => { s.width = 263.7; },
        afterBuildTicks: s => { s.ticks = latTicks.map(v => ({ value: v })); },
        ticks: { padding: 7, labelOffset: 2.5, callback: v => v.toFixed(1) },
        grid: axisGrid, border: axisBorder
      }
    }
  },
  plugins: [pageTitlePlugin, arrowsPlugin, contourLabelPlugin, logoPlugin]
});

new Chart(document.getElementById('barChart'), {
  type: 'bar',
  data: {
    labels: ['Altura'],
    datasets: bandColors.map((col, i) => ({
      data: [bandEdges[i + 1] - bandEdges[i]], backgroundColor: col, borderWidth: 0,
      categoryPercentage: 1, barPercentage: 1
    }))
  },
  options: {
    indexAxis: 'y',
    responsive: false,
    devicePixelRatio: 1,
    layout: { padding: { left: 122.5, right: 62, top: 22.7, bottom: 0 } },
    scales: {
      x: {
        type: 'linear', min: 0, max: 4, stacked: true,
        afterFit: s => { s.height = 116; },
        afterBuildTicks: s => { s.ticks = barTicks.map(v => ({ value: v })); },
        ticks: { padding: 7, maxRotation: 0, callback: v => v.toFixed(1) },
        title: { display: true, text: 'Altura Significativa (m)', padding: { top: 0, bottom: 27 } },
        grid: axisGrid, border: axisBorder
      },
      y: { display: false, stacked: true }
    }
  }
});

const pointLabelPlugin = {
  id: 'pointLabel',
  afterDatasetsDraw(chart, args, opts) {
    const ctx = chart.ctx;
    const x = chart.scales.x.getPixelForValue(0), y = chart.scales.y.getPixelForValue(opts.value);
    ctx.save();
    ctx.font = '27.5px "DejaVu Sans"';
    ctx.fillStyle = '#000';
    ctx.textBaseline = 'middle';
    ctx.fillText(opts.value.toFixed(2) + ' m', x + 1, y - 31);
    ctx.restore();
  }
};

function seriesChart(id, title, values, titleTop, titleBottom, xHeight) {
  const bands = alertLow.map((lo, i) => ({
    data: [{ x: -6, y: alertHigh[i] }, { x: 126, y: alertHigh[i] }],
    showLine: true, pointRadius: 0, borderWidth: 0,
    backgroundColor: alertFill[i], fill: { value: lo }, clip: 0, order: 9
  }));
  const edges = alertHigh.map((hi, i) => ({
    data: [{ x: -6, y: hi }, { x: 126, y: hi }],
    showLine: true, pointRadius: 0, borderWidth: 2.4, borderColor: alertEdge[i], clip: 0, order: 5
  }));
  new Chart(document.getElementById(id), {
    type: 'scatter',
    data: {
      datasets: [
        ...bands,
        ...edges,
        {
          data: values.map((v, i) => ({ x: i * 3, y: v })), showLine: true, pointRadius: 0,
          borderColor: '#0000ff', borderWidth: 4.1, tension: 0, order: 2
        },
        {
          data: [{ x: 0, y: values[0] }], pointRadius: 9.6, pointBorderWidth: 0,
          pointBackgroundColor: '#ff0000', order: 1
        }
      ]
    },
    options: {
      responsive: false,
      devicePixelRatio: 1,
      layout: { padding: { left: 0, right: 46.4, top: 0, bottom: 0 } },
      plugins: {
        title: {
          display: true, text: title, fullSize: false, color: '#000',
          font: { size: 33.3, weight: 'normal', lineHeight: 1.2 }, padding: { top: titleTop, bottom: titleBottom }
        },
        pointLabel: { value: values[0] }
      },
      scales: {
        x: {
          type: 'linear', min: -6, max: 126,
          afterFit: s => { s.height = xHeight; },
          afterBuildTicks: s => { s.ticks = dayLabels.map((d, i) => ({ value: i * 24 })); },
          ticks: { padding: 7, maxRotation: 0, callback: v => dayLabels[v / 24] },
          grid: axisGrid, border: axisBorder
        },
        y: {
          type: 'linear', min: 0, max: 4,
          afterFit: s => { s.width = 106.2; },
          ticks: { stepSize: 1, padding: 7, labelOffset: 2.5 },
          title: { display: true, text: 'Altura (m)', padding: { top: 28, bottom: 0 } },
          grid: axisGrid, border: axisBorder
        }
      }
    },
    plugins: [pointLabelPlugin]
  });
}
seriesChart('redChart', 'Riohacha (Estrella Roja)', riohachaHs, 10, 5, 73.3);
seriesChart('whiteChart', 'Área Marítima (Estrella Blanca)', maritimaHs, 5.2, 5.2, 77.3);
</script>
</body>
</html>
